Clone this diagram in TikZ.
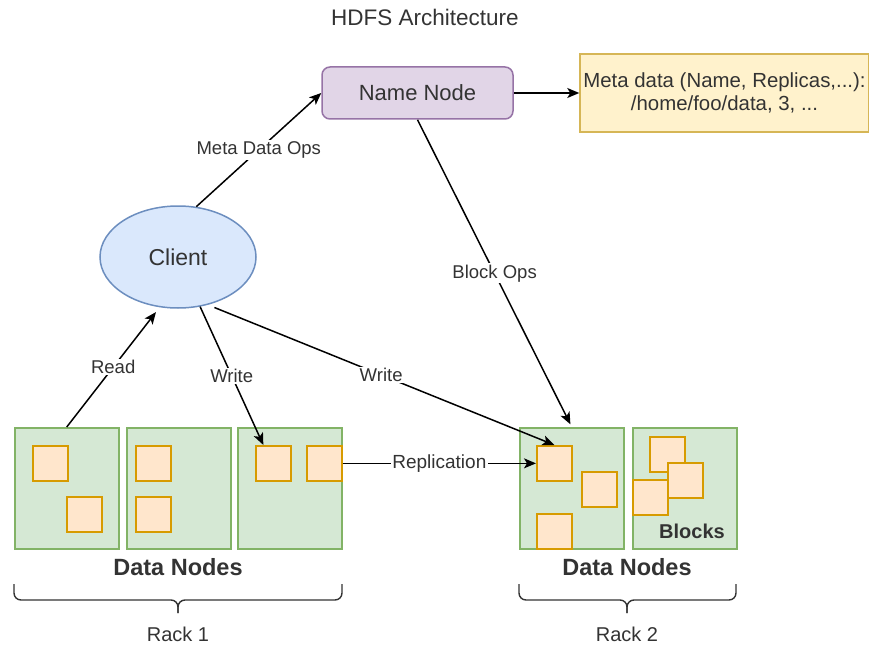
\documentclass[tikz,border=0pt]{standalone}
\usepackage{fontspec}
\setmainfont{Liberation Sans}
\usetikzlibrary{arrows.meta,calc,shapes.geometric}
\definecolor{txt}{HTML}{333333}
\definecolor{nnfill}{HTML}{E1D5E7}
\definecolor{nnline}{HTML}{9673A6}
\definecolor{mdfill}{HTML}{FFF2CC}
\definecolor{mdline}{HTML}{D6B656}
\definecolor{clfill}{HTML}{DAE8FC}
\definecolor{clline}{HTML}{6C8EBF}
\definecolor{dnfill}{HTML}{D5E8D4}
\definecolor{dnline}{HTML}{82B366}
\definecolor{blkfill}{HTML}{FFE6CC}
\definecolor{blkline}{HTML}{D79B00}
\begin{document}
\begin{tikzpicture}[x=1pt,y=-1pt,
  fs/.style={font=\fontsize{#1}{#1}\selectfont},
  arr/.style={draw=black, line width=1.5pt, -{Stealth[length=12pt,width=10pt,inset=3pt]}},
  lbl/.style={fill=white, inner sep=1.5pt, text=txt, fs=18.5},
  datanode/.style={draw=dnline, fill=dnfill, line width=1.5pt, minimum width=104pt, minimum height=121pt, inner sep=0pt, anchor=north west},
  blk/.style={draw=blkline, fill=blkfill, line width=1.7pt, minimum size=35pt, inner sep=0pt, anchor=north west},
  bracket/.style={draw=txt, line width=1.4pt, rounded corners=7pt}
]
\useasboundingbox (0,0) rectangle (869,647);

% title
\node[text=txt, fs=22.5] (title) at (425,17) {HDFS Architecture};

% name node and its metadata
\node[draw=nnline, fill=nnfill, line width=1.5pt, rounded corners=8pt,
      minimum width=191pt, minimum height=52pt, text=txt, fs=22] (nn) at (417.5,93) {Name Node};
\node[draw=mdline, fill=mdfill, line width=1.5pt, minimum width=287pt, minimum height=78pt,
      align=center, text=txt, fs=20.4] (meta) at (724.5,93)
      {Meta data (Name, Replicas,...):\\[3pt]/home/foo/data, 3, ...};

% client
\node[draw=clline, fill=clfill, line width=1.5pt, ellipse, minimum width=156pt, minimum height=102pt,
      inner sep=0pt, text=txt, fs=23] (client) at (178,257) {Client};

% rack 1 data nodes
\node[datanode] (d1) at (14,427) {};
\node[datanode] (d2) at (126,427) {};
\node[datanode] (d3) at (237,427) {};
\node[blk] (b11) at (32,445) {};
\node[blk] (b12) at (66,496) {};
\node[blk] (b21) at (135,445) {};
\node[blk] (b22) at (135,496) {};
\node[blk] (b31) at (255,445) {};
\node[blk] (b32) at (306,445) {};

% rack 2 data nodes
\node[datanode] (d4) at (519,427) {};
\node[datanode] (d5) at (632,427) {};
\node[blk] (b41) at (536,445) {};
\node[blk] (b42) at (581,471) {};
\node[blk] (b43) at (536,513) {};
\node[blk] (b51) at (649,436) {};
\node[blk] (b52) at (667,462) {};
\node[blk] (b53) at (632,479) {};
\node[text=txt, font=\bfseries\fontsize{20}{20}\selectfont] (blocks) at (692,531) {Blocks};

% captions
\node[text=txt, font=\bfseries\fontsize{23.5}{24}\selectfont] (dn1) at (178,567) {Data Nodes};
\node[text=txt, font=\bfseries\fontsize{23.5}{24}\selectfont] (dn2) at (627,567) {Data Nodes};
\node[text=txt, fs=20] (rack1) at (178,634) {Rack 1};
\node[text=txt, fs=20] (rack2) at (627,634) {Rack 2};

% rack brackets
\draw[bracket] (14,584) -- (14,600) -- (178,600) -- (178,613);
\draw[bracket] (342,584) -- (342,600) -- (178,600) -- (178,613);
\draw[bracket] (519,584) -- (519,600) -- (627,600) -- (627,613);
\draw[bracket] (736,584) -- (736,600) -- (627,600) -- (627,613);

% connectors
\draw[arr] (nn.east) -- (meta.west);
\draw[arr] (client.70) -- (nn.west) node[lbl, midway] {Meta Data Ops};
\draw[arr, shorten >=3pt] (nn.south) -- (d4.north) node[lbl, midway] {Block Ops};
\draw[arr, shorten >=6pt] (d1.north) -- (client.250) node[lbl, midway] {Read};
\draw[arr] (client.294) -- ([xshift=-10pt]b31.north) node[lbl, midway] {Write};
\draw[arr, shorten <=7pt] (client.302) -- (b41.north) node[lbl, midway] {Write};
\draw[arr] (b32.east) -- (b41.west) node[lbl, midway, fs=19] {Replication};
\end{tikzpicture}
\end{document}
